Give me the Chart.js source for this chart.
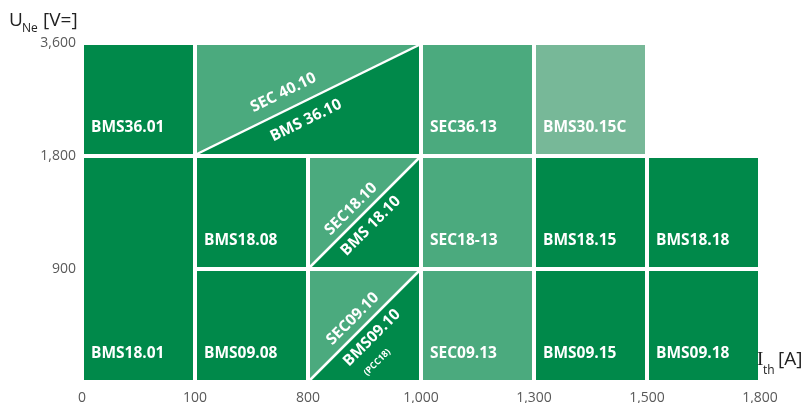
<!DOCTYPE html>
<html>
<head>
<meta charset="utf-8">
<script src="https://cdn.jsdelivr.net/npm/chart.js@4/dist/chart.umd.min.js"></script>
<style>
  body { margin: 0; background: #fff; }
  #wrap { width: 808px; height: 403px; }
</style>
</head>
<body>
<div id="wrap"><canvas id="myChart"></canvas></div>
<script>
var xTicks = ["0", "100", "800", "1,000", "1,300", "1,500", "1,800"];
var yTicks = ["", "900", "1,800", "3,600"];

// plain cells, spans given in grid steps of the two axes
var cellLabels = ["BMS36.01", "BMS18.01", "BMS18.08", "BMS09.08", "SEC36.13", "BMS30.15C",
                  "SEC18-13", "SEC09.13", "BMS18.15", "BMS09.15", "BMS18.18", "BMS09.18"];
var cellFrom = [0, 0, 1, 1, 3, 4, 3, 3, 4, 4, 5, 5];
var cellTo   = [1, 1, 2, 2, 4, 5, 4, 4, 5, 5, 6, 6];
var cellLow  = [2, 0, 1, 0, 2, 2, 1, 0, 1, 0, 1, 0];
var cellHigh = [3, 2, 2, 1, 3, 3, 2, 1, 2, 1, 2, 1];
var cellKind = ["BMS", "BMS", "BMS", "BMS", "SEC", "BMSC", "SEC", "SEC", "BMS", "BMS", "BMS", "BMS"];

// split cells: SEC above the diagonal, BMS below
var splitUpper = ["SEC 40.10", "SEC18.10", "SEC09.10"];
var splitLower = ["BMS 36.10", "BMS 18.10", "BMS09.10"];
var splitNote  = ["", "", "(PCC18)"];
var splitFrom = [1, 2, 2];
var splitTo   = [3, 3, 3];
var splitLow  = [2, 1, 0];
var splitHigh = [3, 2, 1];

var kindColors = { BMS: "#00894A", SEC: "#4BAA7E", BMSC: "#77B898" };
// text placement along / across the diagonal
var splitText = [
  { ua: -19, uu: 17, la: -11, lu: -18 },
  { ua: -7, uu: 12, la: -5, lu: -14 },
  { ua: -3.5, uu: 13, la: -3.5, lu: -14, na: -17, nu: -35 }
];

var cellsPlugin = {
  id: "cells",
  afterDatasetsDraw: function (chart) {
    var ctx = chart.ctx, x = chart.scales.x, y = chart.scales.y;
    function box(f, t, lo, hi) {
      return {
        l: x.getPixelForValue(f) + 2, r: x.getPixelForValue(t) - 2,
        t: y.getPixelForValue(hi) + 2, b: y.getPixelForValue(lo) - 2
      };
    }
    ctx.save();
    for (var i = 0; i < cellLabels.length; i++) {
      var b = box(cellFrom[i], cellTo[i], cellLow[i], cellHigh[i]);
      ctx.fillStyle = kindColors[cellKind[i]];
      ctx.fillRect(b.l, b.t, b.r - b.l, b.b - b.t);
      ctx.fillStyle = "#fff";
      ctx.font = "bold 15.5px 'Open Sans'";
      ctx.textAlign = "left";
      ctx.textBaseline = "middle";
      ctx.fillText(cellLabels[i], b.l + 7, b.b - 26);
    }
    for (var j = 0; j < splitUpper.length; j++) {
      var s = box(splitFrom[j], splitTo[j], splitLow[j], splitHigh[j]);
      ctx.fillStyle = kindColors.SEC;
      ctx.beginPath();
      ctx.moveTo(s.l, s.b); ctx.lineTo(s.l, s.t); ctx.lineTo(s.r, s.t); ctx.closePath();
      ctx.fill();
      ctx.fillStyle = kindColors.BMS;
      ctx.beginPath();
      ctx.moveTo(s.l, s.b); ctx.lineTo(s.r, s.b); ctx.lineTo(s.r, s.t); ctx.closePath();
      ctx.fill();
      ctx.strokeStyle = "#fff";
      ctx.lineWidth = 2.5;
      ctx.beginPath();
      ctx.moveTo(s.l, s.b); ctx.lineTo(s.r, s.t);
      ctx.stroke();

      var a = -Math.atan2(s.b - s.t, s.r - s.l);
      var cx = (s.l + s.r) / 2, cy = (s.t + s.b) / 2;
      var dx = Math.cos(a), dy = Math.sin(a), nx = Math.sin(a), ny = -Math.cos(a);
      var o = splitText[j];
      function put(txt, along, up, font) {
        ctx.save();
        ctx.translate(cx + along * dx + up * nx, cy + along * dy + up * ny);
        ctx.rotate(a);
        ctx.font = font;
        ctx.fillStyle = "#fff";
        ctx.textAlign = "center";
        ctx.textBaseline = "middle";
        ctx.fillText(txt, 0, 0);
        ctx.restore();
      }
      put(splitUpper[j], o.ua, o.uu, "bold 15.5px 'Open Sans'");
      put(splitLower[j], o.la, o.lu, "bold 15.5px 'Open Sans'");
      if (splitNote[j]) put(splitNote[j], o.na, o.nu, "bold 9px 'Open Sans'");
    }

    // axis titles
    ctx.fillStyle = "#222";
    ctx.textAlign = "left";
    ctx.textBaseline = "alphabetic";
    ctx.font = "19px 'Open Sans'";
    ctx.fillText("U", 9, 26);
    ctx.font = "12px 'Open Sans'";
    ctx.fillText("Ne", 22, 32);
    ctx.font = "19px 'Open Sans'";
    ctx.fillText("[V=]", 43, 26);

    ctx.font = "19px 'Liberation Serif'";
    ctx.fillText("I", 757, 365);
    ctx.font = "12px 'Open Sans'";
    ctx.fillText("th", 763, 374);
    ctx.font = "19px 'Open Sans'";
    ctx.fillText("[A]", 778, 365);
    ctx.restore();
  }
};

new Chart("myChart", {
  type: "scatter",
  data: { datasets: [{ data: [] }] },
  options: {
    responsive: true,
    maintainAspectRatio: false,
    animation: false,
    layout: { padding: { left: 0, right: 48, top: 43, bottom: 0 } },
    plugins: { legend: { display: false }, tooltip: { enabled: false } },
    scales: {
      x: {
        type: "linear", min: 0, max: 6,
        grid: { display: false, drawTicks: false },
        border: { display: false },
        afterFit: function (s) { s.height = 21; },
        ticks: {
          stepSize: 1, autoSkip: false, maxRotation: 0, padding: 8,
          color: "#595959", font: { family: "'Open Sans'", size: 14 },
          callback: function (v) { return xTicks[v]; }
        }
      },
      y: {
        type: "linear", min: 0, max: 3,
        grid: { display: false, drawTicks: false },
        border: { display: false },
        afterFit: function (s) { s.width = 82; },
        ticks: {
          stepSize: 1, padding: 6,
          color: "#595959", font: { family: "'Open Sans'", size: 14 },
          callback: function (v) { return yTicks[v]; }
        }
      }
    }
  },
  plugins: [cellsPlugin]
});
</script>
</body>
</html>
